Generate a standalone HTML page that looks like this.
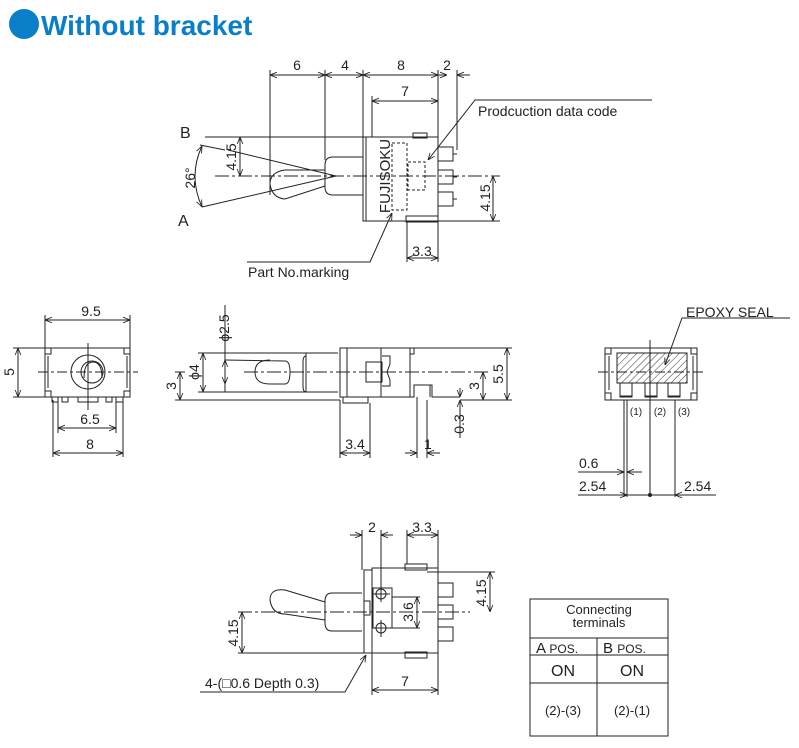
<!DOCTYPE html>
<html><head><meta charset="utf-8"><style>
html,body{margin:0;padding:0;background:#fff;}
svg{display:block;font-family:"Liberation Sans",sans-serif;}
</style></head><body>
<svg width="799" height="748" viewBox="0 0 799 748" xmlns="http://www.w3.org/2000/svg">
<defs>
<marker id="a" viewBox="0 0 10 10" refX="10" refY="5" markerWidth="7" markerHeight="7" orient="auto-start-reverse" markerUnits="userSpaceOnUse"><path d="M0,1 L10,5 L0,9" fill="none" stroke="#222" stroke-width="1.2"/></marker>
<pattern id="h" width="5" height="5" patternUnits="userSpaceOnUse" patternTransform="rotate(45)"><line x1="0" y1="0" x2="0" y2="5" stroke="#333" stroke-width="1"/></pattern>
</defs>
<!-- Title -->
<circle cx="24" cy="24" r="15" fill="#0a7fc9"/>
<text x="41" y="35" font-size="28" font-weight="bold" fill="#0a7fc9">Without bracket</text>

<g stroke="#222" stroke-width="1" fill="none">
<!-- ===== TOP VIEW ===== -->
<line x1="270" y1="70" x2="270" y2="195"/><line x1="325" y1="70" x2="325" y2="160"/>
<line x1="363" y1="70" x2="363" y2="137"/><line x1="438" y1="70" x2="438" y2="137"/><line x1="457" y1="70" x2="457" y2="150"/>
<line x1="270" y1="75" x2="325" y2="75" marker-start="url(#a)" marker-end="url(#a)"/>
<line x1="325" y1="75" x2="363" y2="75" marker-start="url(#a)" marker-end="url(#a)"/>
<line x1="363" y1="75" x2="438" y2="75" marker-start="url(#a)" marker-end="url(#a)"/>
<line x1="438" y1="75" x2="447" y2="75" marker-end="url(#a)"/><line x1="457" y1="75" x2="470" y2="75" marker-start="url(#a)"/>
<line x1="372" y1="96" x2="372" y2="137"/>
<line x1="372" y1="101" x2="438" y2="101" marker-start="url(#a)" marker-end="url(#a)"/>
<rect x="366" y="137" width="72" height="84"/>
<path d="M366,137 h-3 v84 h3"/>
<rect x="413" y="133" width="14" height="5"/><rect x="406" y="216" width="32" height="6"/>
<rect x="438" y="147" width="15" height="14"/><rect x="438" y="170" width="15" height="14"/><rect x="438" y="192" width="15" height="14"/>
<line x1="453" y1="154" x2="457" y2="154"/><line x1="453" y1="177" x2="457" y2="177"/><line x1="453" y1="199" x2="457" y2="199"/>
<rect x="392" y="143" width="15" height="67" stroke-dasharray="3,2"/>
<rect x="408" y="162" width="17" height="28" stroke-dasharray="3,2"/>
<path d="M363,157 h-30 q-8,0 -8,8 v22 q0,8 8,8 h30"/>
<path d="M325,170 L285,170 Q270,172 270,184 Q272,198 285,199 L325,186"/>
<line x1="215" y1="176" x2="500" y2="176" stroke-dasharray="14,3,3,3"/>
<line x1="228" y1="150" x2="336" y2="176"/><line x1="202" y1="207" x2="336" y2="176"/>
<line x1="205" y1="137" x2="366" y2="137"/><line x1="200" y1="145" x2="225" y2="150"/>
<path d="M202,146 Q188,176 202,207" marker-start="url(#a)" marker-end="url(#a)"/>
<line x1="240" y1="137" x2="240" y2="176" marker-start="url(#a)" marker-end="url(#a)"/>
<line x1="438" y1="221" x2="500" y2="221"/>
<line x1="493" y1="176" x2="493" y2="221" marker-start="url(#a)" marker-end="url(#a)"/>
<line x1="407" y1="221" x2="407" y2="262"/><line x1="438" y1="221" x2="438" y2="262"/>
<line x1="407" y1="258" x2="438" y2="258" marker-start="url(#a)" marker-end="url(#a)"/>
<path d="M652,100 H475 L428,160" marker-end="url(#a)"/>
<path d="M247,262 H370 L392,213" marker-end="url(#a)"/>

<!-- ===== END VIEW LEFT ===== -->
<line x1="45" y1="315" x2="45" y2="348"/><line x1="130" y1="315" x2="130" y2="348"/>
<line x1="45" y1="320" x2="130" y2="320" marker-start="url(#a)" marker-end="url(#a)"/>
<rect x="45" y="348" width="85" height="49"/>
<rect x="45" y="348" width="6" height="6"/><rect x="124" y="348" width="6" height="6"/>
<rect x="45" y="391" width="6" height="6"/><rect x="124" y="391" width="6" height="6"/>
<line x1="48" y1="356" x2="48" y2="388"/><line x1="127" y1="356" x2="127" y2="388"/>
<path d="M52,397 v5 h6 v-5 M116,397 v5 h7 v-5 M62,397 v5 h6 v-5 M78,397 v5 h20 v-5 M106,397 v5 h6 v-5"/>
<circle cx="88" cy="372" r="17"/><circle cx="92" cy="372" r="11"/>
<path d="M84,378 Q84,362 93,362 Q102,362 102,378"/>
<line x1="88" y1="343" x2="88" y2="410"/><line x1="38" y1="372" x2="138" y2="372" stroke-dasharray="10,3,3,3"/>
<line x1="13" y1="348" x2="45" y2="348"/><line x1="13" y1="397" x2="45" y2="397"/>
<line x1="18" y1="348" x2="18" y2="397" marker-start="url(#a)" marker-end="url(#a)"/>
<line x1="58" y1="400" x2="58" y2="433"/><line x1="116" y1="400" x2="116" y2="433"/>
<line x1="58" y1="428" x2="116" y2="428" marker-start="url(#a)" marker-end="url(#a)"/>
<line x1="53" y1="400" x2="53" y2="457"/><line x1="123" y1="400" x2="123" y2="457"/>
<line x1="53" y1="453" x2="123" y2="453" marker-start="url(#a)" marker-end="url(#a)"/>

<!-- ===== SIDE VIEW ===== -->
<rect x="203" y="353" width="103" height="39"/>
<path d="M306,353 h32 M306,392 h32"/>
<path d="M306,356 q-3,0 -3,6 v24 q0,6 3,6"/>
<path d="M225,360 L285,361 Q290,361 290,372 Q290,384 285,384 L270,384 Q255,384 255,372 Q255,360 270,360"/>
<rect x="340" y="348" width="70" height="49"/>
<line x1="347" y1="348" x2="347" y2="397"/><line x1="381" y1="348" x2="381" y2="397"/>
<rect x="366" y="362" width="16" height="20"/>
<path d="M382,356 h8 v8 l-3,8 l3,8 v6 h-8"/>
<path d="M410,348 h4 v6 h-4 M410,397 h4 v-12 h16 v12"/>
<path d="M430,385 h2 v12 h28"/>
<path d="M343,397 v6 h25 v-6"/>
<line x1="225" y1="305" x2="225" y2="392"/>
<line x1="225" y1="360" x2="225" y2="384" marker-start="url(#a)" marker-end="url(#a)"/>
<line x1="198" y1="353" x2="203" y2="353"/><line x1="198" y1="392" x2="203" y2="392"/>
<line x1="203" y1="353" x2="203" y2="392" marker-start="url(#a)" marker-end="url(#a)"/>
<line x1="175" y1="400" x2="340" y2="400"/>
<line x1="180" y1="372" x2="180" y2="400" marker-start="url(#a)" marker-end="url(#a)"/>
<line x1="175" y1="372" x2="185" y2="372"/>
<line x1="244" y1="372" x2="490" y2="372" stroke-dasharray="14,3,3,3"/>
<line x1="410" y1="348" x2="512" y2="348"/><line x1="460" y1="400" x2="512" y2="400"/>
<line x1="507" y1="348" x2="507" y2="400" marker-start="url(#a)" marker-end="url(#a)"/>
<line x1="483" y1="372" x2="483" y2="400" marker-start="url(#a)" marker-end="url(#a)"/>
<line x1="460" y1="388" x2="460" y2="397" marker-end="url(#a)"/>
<line x1="460" y1="438" x2="460" y2="400" marker-end="url(#a)"/>
<line x1="340" y1="400" x2="340" y2="458"/><line x1="370" y1="403" x2="370" y2="458"/>
<line x1="340" y1="453" x2="370" y2="453" marker-start="url(#a)" marker-end="url(#a)"/>
<line x1="417" y1="397" x2="417" y2="458"/><line x1="427" y1="400" x2="427" y2="458"/>
<line x1="405" y1="453" x2="417" y2="453" marker-end="url(#a)"/><line x1="440" y1="453" x2="427" y2="453" marker-end="url(#a)"/>

<!-- ===== RIGHT END VIEW ===== -->
<rect x="605" y="348" width="92" height="52"/>
<rect x="605" y="348" width="6" height="6"/><rect x="691" y="348" width="6" height="6"/>
<rect x="605" y="393" width="6" height="7"/><rect x="691" y="393" width="6" height="7"/>
<line x1="609" y1="356" x2="609" y2="390"/><line x1="693" y1="356" x2="693" y2="390"/>
<path d="M617,353 H687 V383 H680 V397 H668 V383 H657 V397 H645 V383 H632 V397 H620 V383 H617 Z" fill="url(#h)"/>
<rect x="620" y="383" width="12" height="13" fill="#fff"/><rect x="645" y="383" width="12" height="13" fill="#fff"/><rect x="668" y="383" width="12" height="13" fill="#fff"/>
<line x1="598" y1="372" x2="703" y2="372" stroke-dasharray="10,3,3,3"/>
<line x1="650" y1="340" x2="650" y2="400"/>
<line x1="624" y1="400" x2="624" y2="497"/><line x1="627" y1="400" x2="627" y2="497"/>
<line x1="650" y1="400" x2="650" y2="497"/><line x1="675" y1="400" x2="675" y2="497"/>
<path d="M790,318 H682 L665,365" marker-end="url(#a)"/>
<line x1="578" y1="472" x2="624" y2="472" marker-end="url(#a)"/><line x1="642" y1="472" x2="627" y2="472" marker-end="url(#a)"/>
<line x1="578" y1="495" x2="627" y2="495" marker-end="url(#a)"/><line x1="627" y1="495" x2="675" y2="495"/>
<line x1="716" y1="495" x2="675" y2="495" marker-end="url(#a)"/>
<circle cx="650" cy="495" r="1.5" fill="#222"/>

<!-- ===== BOTTOM VIEW ===== -->
<rect x="372" y="568" width="66" height="85"/>
<path d="M372,570 h-8 v83 h8"/>
<rect x="405" y="564" width="22" height="6"/><rect x="405" y="652" width="22" height="6"/>
<rect x="438" y="583" width="15" height="14"/><rect x="438" y="605" width="15" height="14"/><rect x="438" y="627" width="15" height="14"/>
<rect x="373" y="588" width="19" height="40"/>
<circle cx="381" cy="594" r="5"/><circle cx="381" cy="628" r="5"/>
<line x1="381" y1="585" x2="381" y2="602"/><line x1="372" y1="594" x2="390" y2="594"/>
<line x1="381" y1="620" x2="381" y2="637"/><line x1="372" y1="628" x2="390" y2="628"/>
<rect x="364" y="601" width="6" height="14"/>
<path d="M362,593 h-30 q-7,0 -7,8 v22 q0,8 7,8 h30"/>
<path d="M325,602 L285,590 Q270,588 270,600 Q272,614 285,614 L325,620"/>
<line x1="238" y1="612" x2="470" y2="612" stroke-dasharray="14,3,3,3"/>
<line x1="362" y1="530" x2="362" y2="570"/><line x1="381" y1="530" x2="381" y2="585"/>
<line x1="350" y1="535" x2="362" y2="535" marker-end="url(#a)"/><line x1="393" y1="535" x2="381" y2="535" marker-end="url(#a)"/>
<line x1="407" y1="530" x2="407" y2="564"/><line x1="438" y1="530" x2="438" y2="568"/>
<line x1="407" y1="535" x2="438" y2="535" marker-start="url(#a)" marker-end="url(#a)"/>
<line x1="427" y1="572" x2="495" y2="572"/>
<line x1="490" y1="572" x2="490" y2="612" marker-start="url(#a)" marker-end="url(#a)"/>
<line x1="392" y1="597" x2="420" y2="597"/><line x1="392" y1="628" x2="420" y2="628"/>
<line x1="417" y1="597" x2="417" y2="628" marker-start="url(#a)" marker-end="url(#a)"/>
<line x1="238" y1="653" x2="364" y2="653"/>
<line x1="242" y1="612" x2="242" y2="653" marker-start="url(#a)" marker-end="url(#a)"/>
<line x1="372" y1="653" x2="372" y2="695"/><line x1="438" y1="653" x2="438" y2="695"/>
<line x1="372" y1="690" x2="438" y2="690" marker-start="url(#a)" marker-end="url(#a)"/>
<path d="M200,692 H345 L366,655" marker-end="url(#a)"/>

<rect x="530" y="599" width="138" height="137"/>
<line x1="530" y1="638" x2="668" y2="638"/><line x1="530" y1="655" x2="668" y2="655"/><line x1="530" y1="683" x2="668" y2="683"/>
<line x1="597" y1="638" x2="597" y2="736"/>
</g>

<g fill="#222" font-size="14">
<text x="297" y="70" text-anchor="middle">6</text>
<text x="345" y="70" text-anchor="middle">4</text>
<text x="401" y="70" text-anchor="middle">8</text>
<text x="447" y="70" text-anchor="middle">2</text>
<text x="405" y="96" text-anchor="middle">7</text>
<text x="478" y="116">Prodcuction data code</text>
<text x="180" y="138" font-size="16">B</text>
<text x="178" y="226" font-size="16">A</text>
<text transform="translate(195,178) rotate(-90)" text-anchor="middle">26°</text>
<text transform="translate(236,157) rotate(-90)" text-anchor="middle">4.15</text>
<text transform="translate(390,176) rotate(-90)" text-anchor="middle" font-size="15">FUJISOKU</text>
<text transform="translate(490,198) rotate(-90)" text-anchor="middle">4.15</text>
<text x="422" y="256" text-anchor="middle">3.3</text>
<text x="248" y="277">Part No.marking</text>

<text x="91" y="316" text-anchor="middle">9.5</text>
<text transform="translate(14,372) rotate(-90)" text-anchor="middle">5</text>
<text x="90" y="424" text-anchor="middle">6.5</text>
<text x="90" y="449" text-anchor="middle">8</text>

<text transform="translate(229,328) rotate(-90)" text-anchor="middle">ϕ2.5</text>
<text transform="translate(199,372) rotate(-90)" text-anchor="middle">ϕ4</text>
<text transform="translate(176,386) rotate(-90)" text-anchor="middle">3</text>
<text transform="translate(479,386) rotate(-90)" text-anchor="middle">3</text>
<text transform="translate(503,374) rotate(-90)" text-anchor="middle">5.5</text>
<text transform="translate(464,424) rotate(-90)" text-anchor="middle">0.3</text>
<text x="355" y="449" text-anchor="middle">3.4</text>
<text x="424" y="449">1</text>

<text x="686" y="317">EPOXY SEAL</text>
<text x="636" y="415" font-size="10" text-anchor="middle">(1)</text>
<text x="660" y="415" font-size="10" text-anchor="middle">(2)</text>
<text x="684" y="415" font-size="10" text-anchor="middle">(3)</text>
<text x="579" y="468">0.6</text>
<text x="579" y="491">2.54</text>
<text x="684" y="491">2.54</text>

<text x="372" y="532" text-anchor="middle">2</text>
<text x="422" y="532" text-anchor="middle">3.3</text>
<text transform="translate(486,593) rotate(-90)" text-anchor="middle">4.15</text>
<text transform="translate(413,612) rotate(-90)" text-anchor="middle">3.6</text>
<text transform="translate(238,633) rotate(-90)" text-anchor="middle">4.15</text>
<text x="405" y="686" text-anchor="middle">7</text>
<text x="205" y="688">4-(□0.6 Depth 0.3)</text>

<text x="599" y="614" text-anchor="middle" font-size="13">Connecting</text>
<text x="599" y="627" text-anchor="middle" font-size="13">terminals</text>
<text x="536" y="653" font-size="15">A <tspan font-size="12">POS.</tspan></text>
<text x="603" y="653" font-size="15">B <tspan font-size="12">POS.</tspan></text>
<text x="563" y="676" text-anchor="middle" font-size="16">ON</text>
<text x="632" y="676" text-anchor="middle" font-size="16">ON</text>
<text x="563" y="715" text-anchor="middle" font-size="13">(2)-(3)</text>
<text x="632" y="715" text-anchor="middle" font-size="13">(2)-(1)</text>
</g>
</svg>
</body></html>
